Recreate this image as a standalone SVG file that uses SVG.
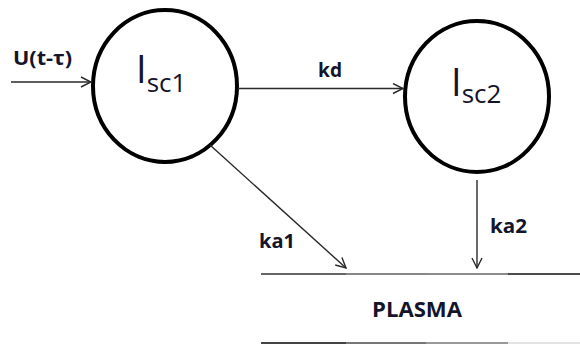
<svg xmlns="http://www.w3.org/2000/svg" width="580" height="345" viewBox="0 0 580 345">
  <style>
    .pool { fill: #ffffff; stroke: #000000; stroke-width: 4; }
    .flow { fill: none; stroke: #2a2a2a; stroke-width: 1.4; }
    .lbl { font-family: "Open Sans", "Liberation Sans", sans-serif; font-weight: bold; font-size: 19.5px; fill: #14142a; }
    .big { font-size: 21px; }
    .name { font-family: "Open Sans", "Liberation Sans", sans-serif; font-size: 38px; fill: #14142a; }
    .sub { font-size: 26px; }
  </style>
  <defs>
    <marker id="open" viewBox="0 0 12 12" refX="11" refY="6" markerWidth="12" markerHeight="12" markerUnits="userSpaceOnUse" orient="auto">
      <path d="M1 1 L11 6 L1 11" fill="none" stroke="#2a2a2a" stroke-width="1.4"/>
    </marker>
  </defs>

  <rect width="580" height="345" fill="#ffffff"/>

  <!-- compartment 1 -->
  <g id="isc1">
    <ellipse class="pool" cx="165" cy="86" rx="72" ry="76"/>
    <text class="name" x="136" y="83">I<tspan class="sub" dy="9">sc1</tspan></text>
  </g>

  <!-- compartment 2 -->
  <g id="isc2">
    <ellipse class="pool" cx="477" cy="96.5" rx="72" ry="75.5"/>
    <text class="name" x="451" y="96">I<tspan class="sub" dy="7">sc2</tspan></text>
  </g>

  <!-- plasma band -->
  <g id="plasma">
    <line x1="261" y1="274" x2="346" y2="274" stroke="#333" stroke-width="1.6"/>
    <line x1="346" y1="274" x2="426" y2="274" stroke="#888" stroke-width="2"/>
    <line x1="426" y1="274" x2="508" y2="274" stroke="#666" stroke-width="1.6"/>
    <line x1="508" y1="274" x2="580" y2="274" stroke="#111" stroke-width="1.6"/>
    <line x1="261" y1="343" x2="346" y2="343" stroke="#444" stroke-width="2"/>
    <line x1="346" y1="343" x2="426" y2="343" stroke="#777" stroke-width="2"/>
    <line x1="426" y1="343" x2="508" y2="343" stroke="#999" stroke-width="2"/>
    <line x1="508" y1="343" x2="580" y2="343" stroke="#e4e4e4" stroke-width="2"/>
    <text class="lbl big" x="372" y="317" textLength="90" lengthAdjust="spacingAndGlyphs">PLASMA</text>
  </g>

  <!-- transfers -->
  <g id="connectors">
    <line class="flow" x1="11" y1="82" x2="91" y2="82" marker-end="url(#open)"/>
    <line class="flow" x1="238" y1="88.5" x2="403" y2="88.5" marker-end="url(#open)"/>
    <line class="flow" x1="210" y1="145" x2="346" y2="268" marker-end="url(#open)"/>
    <line class="flow" x1="477" y1="180" x2="477" y2="268" marker-end="url(#open)"/>
  </g>

  <g id="labels">
    <text class="lbl" x="13" y="65" textLength="59" lengthAdjust="spacingAndGlyphs">U(t-τ)</text>
    <text class="lbl" x="318" y="77" textLength="24" lengthAdjust="spacingAndGlyphs">kd</text>
    <text class="lbl" x="259" y="248" textLength="36" lengthAdjust="spacingAndGlyphs">ka1</text>
    <text class="lbl" x="490" y="233" textLength="37" lengthAdjust="spacingAndGlyphs">ka2</text>
  </g>
</svg>
